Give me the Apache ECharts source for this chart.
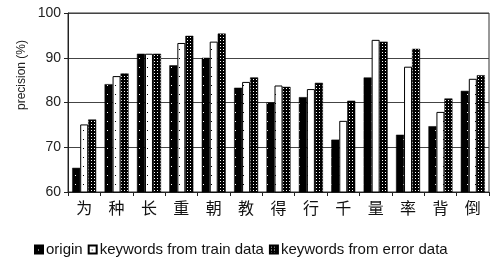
<!DOCTYPE html>
<html><head><meta charset="utf-8">
<script src="https://cdn.jsdelivr.net/npm/echarts@6/dist/echarts.min.js"></script>
<style>html,body{margin:0;padding:0;background:#fff}#c{width:490px;height:261px}</style>
</head><body><div id="c"></div>
<script>
const categories = ['为','种','长','重','朝','教','得','行','千','量','率','背','倒'];
const origin = [65.4, 84.1, 90.9, 88.3, 90.0, 83.3, 80.0, 81.2, 71.7, 85.6, 72.8, 74.7, 82.6];
const trainKw = [75.1, 85.9, 90.9, 93.3, 93.6, 84.6, 83.8, 83.0, 75.9, 94.0, 88.0, 77.9, 85.3];
const errorKw = [76.2, 86.5, 90.9, 94.9, 95.4, 85.6, 83.5, 84.4, 80.4, 93.6, 92.0, 80.9, 86.1];
const yTicks = [60, 70, 80, 90, 100];
const seriesNames = ['origin', 'keywords from train data', 'keywords from error data'];

function pat(w, h, bg, fg, dots) {
  const c = document.createElement('canvas'); c.width = w; c.height = h;
  const x = c.getContext('2d'); x.fillStyle = bg; x.fillRect(0, 0, w, h);
  x.fillStyle = fg; dots.forEach(d => x.fillRect(d[0], d[1], 1, 1));
  return {image: c, repeat: 'repeat'};
}
const blackPat = pat(8, 9, '#000', '#fff', [[3, 4]]);
const whitePat = pat(8, 9, '#fff', '#000', [[3, 4]]);
const checkPat = pat(3, 3, '#000', '#fff', [[1, 1]]);

const chart = echarts.init(document.getElementById('c'));
const font = 'Liberation Sans, Arial, sans-serif';
chart.setOption({
  animation: false,
  grid: {left: 68, right: 1, top: 13, bottom: 69, show: true, borderColor: '#333', borderWidth: 1},
  legend: {
    left: 29, top: 237, itemWidth: 8, itemHeight: 8, itemGap: 5, icon: 'rect',
    textStyle: {fontFamily: font, fontSize: 15, color: '#111', padding: [0, 0, 0, -2]},
    data: seriesNames
  },
  xAxis: {
    type: 'category', data: categories,
    axisLine: {lineStyle: {color: '#222'}},
    axisTick: {show: true, length: 4, lineStyle: {color: '#222'}},
    axisLabel: {fontFamily: 'Noto Sans CJK SC', fontSize: 16, color: '#111', margin: 8}
  },
  yAxis: {
    type: 'value', min: yTicks[0], max: yTicks[yTicks.length - 1], interval: 10,
    axisLine: {show: true, lineStyle: {color: '#222'}},
    axisTick: {show: true, length: 4, lineStyle: {color: '#222'}},
    axisLabel: {fontFamily: font, fontSize: 14, color: '#222', margin: 7},
    splitLine: {lineStyle: {color: '#444', width: 1}}
  },
  graphic: [{
    type: 'text', x: 16, y: 75, rotation: Math.PI / 2,
    style: {text: 'precision (%)', fontFamily: font, fontSize: 12, fill: '#222',
            textAlign: 'center', textVerticalAlign: 'top'}
  }],
  series: [
    {name: seriesNames[0], type: 'bar', data: origin, barWidth: 8, barGap: '0%',
     itemStyle: {color: blackPat, borderColor: '#000', borderWidth: 0.5}},
    {name: seriesNames[1], type: 'bar', data: trainKw, barWidth: 8,
     itemStyle: {color: whitePat, borderColor: '#000', borderWidth: 1}},
    {name: seriesNames[2], type: 'bar', data: errorKw, barWidth: 8,
     itemStyle: {color: checkPat, borderColor: '#000', borderWidth: 0.5}}
  ]
});
</script></body></html>
